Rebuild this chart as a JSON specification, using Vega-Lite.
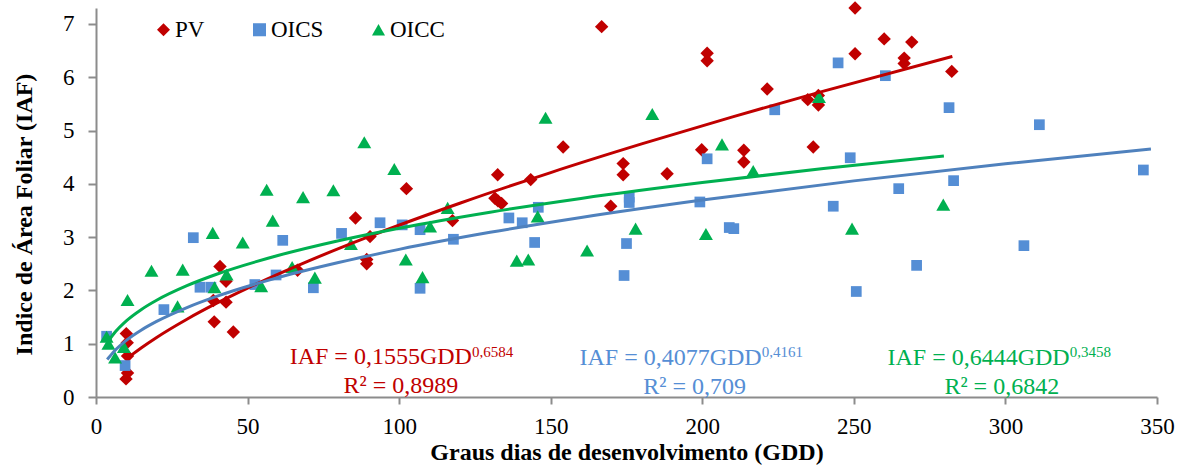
{
  "$schema": "https://vega.github.io/schema/vega-lite/v6.json",
  "width": 1061,
  "height": 389,
  "autosize": {"type": "none"},
  "padding": {"left": 96, "top": 8, "right": 30, "bottom": 78},
  "background": "white",
  "config": {
    "view": {"stroke": null},
    "font": "Liberation Serif",
    "axis": {
      "grid": false,
      "domainColor": "#8c8c8c",
      "domainWidth": 2,
      "tickColor": "#8c8c8c",
      "tickWidth": 2,
      "labelFont": "Liberation Serif",
      "labelFontSize": 23,
      "labelColor": "black",
      "titleFont": "Liberation Serif",
      "titleFontSize": 24,
      "titleFontWeight": "bold",
      "titleColor": "black"
    }
  },
  "datasets": {
    "pts": [
      {"series": "PV", "gdd": 10, "iaf": 1.19},
      {"series": "PV", "gdd": 10.3, "iaf": 1.02},
      {"series": "PV", "gdd": 10.4, "iaf": 0.77},
      {"series": "PV", "gdd": 10.4, "iaf": 0.45},
      {"series": "PV", "gdd": 9.9, "iaf": 0.34},
      {"series": "PV", "gdd": 38.7, "iaf": 1.81},
      {"series": "PV", "gdd": 39, "iaf": 1.41},
      {"series": "PV", "gdd": 40.9, "iaf": 2.45},
      {"series": "PV", "gdd": 42.9, "iaf": 2.17},
      {"series": "PV", "gdd": 42.9, "iaf": 1.78},
      {"series": "PV", "gdd": 45.3, "iaf": 1.22},
      {"series": "PV", "gdd": 66.5, "iaf": 2.38},
      {"series": "PV", "gdd": 85.6, "iaf": 3.36},
      {"series": "PV", "gdd": 89.3, "iaf": 2.58},
      {"series": "PV", "gdd": 89.3, "iaf": 2.5},
      {"series": "PV", "gdd": 90.4, "iaf": 3.01},
      {"series": "PV", "gdd": 102.4, "iaf": 3.91},
      {"series": "PV", "gdd": 117.6, "iaf": 3.31},
      {"series": "PV", "gdd": 132.5, "iaf": 4.17},
      {"series": "PV", "gdd": 131.6, "iaf": 3.73},
      {"series": "PV", "gdd": 132.6, "iaf": 3.68},
      {"series": "PV", "gdd": 133.8, "iaf": 3.63},
      {"series": "PV", "gdd": 143.4, "iaf": 4.08},
      {"series": "PV", "gdd": 154.1, "iaf": 4.69},
      {"series": "PV", "gdd": 166.8, "iaf": 6.95},
      {"series": "PV", "gdd": 169.8, "iaf": 3.58},
      {"series": "PV", "gdd": 173.9, "iaf": 4.38},
      {"series": "PV", "gdd": 173.9, "iaf": 4.17},
      {"series": "PV", "gdd": 188.4, "iaf": 4.19},
      {"series": "PV", "gdd": 199.8, "iaf": 4.64},
      {"series": "PV", "gdd": 201.6, "iaf": 6.45},
      {"series": "PV", "gdd": 201.6, "iaf": 6.31},
      {"series": "PV", "gdd": 213.7, "iaf": 4.63},
      {"series": "PV", "gdd": 213.7, "iaf": 4.41},
      {"series": "PV", "gdd": 221.4, "iaf": 5.78},
      {"series": "PV", "gdd": 234.8, "iaf": 5.58},
      {"series": "PV", "gdd": 238.3, "iaf": 5.48},
      {"series": "PV", "gdd": 238.3, "iaf": 5.66},
      {"series": "PV", "gdd": 236.6, "iaf": 4.69},
      {"series": "PV", "gdd": 250.4, "iaf": 7.3},
      {"series": "PV", "gdd": 250.4, "iaf": 6.44},
      {"series": "PV", "gdd": 260, "iaf": 6.72},
      {"series": "PV", "gdd": 269.1, "iaf": 6.66},
      {"series": "PV", "gdd": 266.6, "iaf": 6.36},
      {"series": "PV", "gdd": 266.6, "iaf": 6.26},
      {"series": "PV", "gdd": 282.3, "iaf": 6.11},
      {"series": "OICS", "gdd": 3.5, "iaf": 1.14},
      {"series": "OICS", "gdd": 9.6, "iaf": 0.59},
      {"series": "OICS", "gdd": 22.4, "iaf": 1.64},
      {"series": "OICS", "gdd": 32.1, "iaf": 2.99},
      {"series": "OICS", "gdd": 34.3, "iaf": 2.06},
      {"series": "OICS", "gdd": 37.9, "iaf": 2.06},
      {"series": "OICS", "gdd": 52.4, "iaf": 2.11},
      {"series": "OICS", "gdd": 59.4, "iaf": 2.29},
      {"series": "OICS", "gdd": 61.6, "iaf": 2.94},
      {"series": "OICS", "gdd": 71.7, "iaf": 2.05},
      {"series": "OICS", "gdd": 81, "iaf": 3.07},
      {"series": "OICS", "gdd": 93.7, "iaf": 3.27},
      {"series": "OICS", "gdd": 101, "iaf": 3.23},
      {"series": "OICS", "gdd": 106.9, "iaf": 3.14},
      {"series": "OICS", "gdd": 106.9, "iaf": 2.04},
      {"series": "OICS", "gdd": 117.9, "iaf": 2.96},
      {"series": "OICS", "gdd": 136.2, "iaf": 3.36},
      {"series": "OICS", "gdd": 140.6, "iaf": 3.27},
      {"series": "OICS", "gdd": 145.9, "iaf": 3.56},
      {"series": "OICS", "gdd": 144.7, "iaf": 2.9},
      {"series": "OICS", "gdd": 175.9, "iaf": 3.75},
      {"series": "OICS", "gdd": 175.9, "iaf": 3.65},
      {"series": "OICS", "gdd": 175, "iaf": 2.88},
      {"series": "OICS", "gdd": 174.2, "iaf": 2.28},
      {"series": "OICS", "gdd": 199.2, "iaf": 3.66},
      {"series": "OICS", "gdd": 201.6, "iaf": 4.47},
      {"series": "OICS", "gdd": 208.9, "iaf": 3.18},
      {"series": "OICS", "gdd": 210.4, "iaf": 3.16},
      {"series": "OICS", "gdd": 223.9, "iaf": 5.39},
      {"series": "OICS", "gdd": 244.8, "iaf": 6.27},
      {"series": "OICS", "gdd": 260.4, "iaf": 6.03},
      {"series": "OICS", "gdd": 281.4, "iaf": 5.43},
      {"series": "OICS", "gdd": 248.8, "iaf": 4.49},
      {"series": "OICS", "gdd": 243.2, "iaf": 3.58},
      {"series": "OICS", "gdd": 264.8, "iaf": 3.91},
      {"series": "OICS", "gdd": 282.9, "iaf": 4.06},
      {"series": "OICS", "gdd": 270.7, "iaf": 2.47},
      {"series": "OICS", "gdd": 250.8, "iaf": 1.98},
      {"series": "OICS", "gdd": 311.2, "iaf": 5.11},
      {"series": "OICS", "gdd": 345.5, "iaf": 4.26},
      {"series": "OICS", "gdd": 306.1, "iaf": 2.84},
      {"series": "OICC", "gdd": 3.5, "iaf": 1.13},
      {"series": "OICC", "gdd": 4.1, "iaf": 1.0},
      {"series": "OICC", "gdd": 6.3, "iaf": 0.74},
      {"series": "OICC", "gdd": 9.2, "iaf": 0.94},
      {"series": "OICC", "gdd": 10.4, "iaf": 1.82},
      {"series": "OICC", "gdd": 18.3, "iaf": 2.37},
      {"series": "OICC", "gdd": 26.9, "iaf": 1.7},
      {"series": "OICC", "gdd": 28.6, "iaf": 2.39},
      {"series": "OICC", "gdd": 38.5, "iaf": 3.08},
      {"series": "OICC", "gdd": 39.1, "iaf": 2.06},
      {"series": "OICC", "gdd": 43.1, "iaf": 2.3},
      {"series": "OICC", "gdd": 48.4, "iaf": 2.9},
      {"series": "OICC", "gdd": 54.5, "iaf": 2.08},
      {"series": "OICC", "gdd": 56.3, "iaf": 3.89},
      {"series": "OICC", "gdd": 58.3, "iaf": 3.31},
      {"series": "OICC", "gdd": 64.7, "iaf": 2.44},
      {"series": "OICC", "gdd": 68.3, "iaf": 3.75},
      {"series": "OICC", "gdd": 72.2, "iaf": 2.24},
      {"series": "OICC", "gdd": 78.3, "iaf": 3.88},
      {"series": "OICC", "gdd": 84.1, "iaf": 2.87},
      {"series": "OICC", "gdd": 88.5, "iaf": 4.78},
      {"series": "OICC", "gdd": 98.4, "iaf": 4.28},
      {"series": "OICC", "gdd": 102.2, "iaf": 2.58},
      {"series": "OICC", "gdd": 107.7, "iaf": 2.25},
      {"series": "OICC", "gdd": 110.2, "iaf": 3.2},
      {"series": "OICC", "gdd": 116, "iaf": 3.55},
      {"series": "OICC", "gdd": 138.8, "iaf": 2.56},
      {"series": "OICC", "gdd": 142.6, "iaf": 2.58},
      {"series": "OICC", "gdd": 145.7, "iaf": 3.39},
      {"series": "OICC", "gdd": 148.3, "iaf": 5.24},
      {"series": "OICC", "gdd": 162, "iaf": 2.75},
      {"series": "OICC", "gdd": 178, "iaf": 3.16},
      {"series": "OICC", "gdd": 183.5, "iaf": 5.31},
      {"series": "OICC", "gdd": 201.2, "iaf": 3.06},
      {"series": "OICC", "gdd": 206.5, "iaf": 4.74},
      {"series": "OICC", "gdd": 216.8, "iaf": 4.24},
      {"series": "OICC", "gdd": 238.5, "iaf": 5.63},
      {"series": "OICC", "gdd": 249.4, "iaf": 3.16},
      {"series": "OICC", "gdd": 279.5, "iaf": 3.61}
    ],
    "trend": [
      {"series": "PV", "gdd": 10.2, "iaf": 0.717},
      {"series": "PV", "gdd": 12, "iaf": 0.799},
      {"series": "PV", "gdd": 15, "iaf": 0.925},
      {"series": "PV", "gdd": 20, "iaf": 1.118},
      {"series": "PV", "gdd": 30, "iaf": 1.46},
      {"series": "PV", "gdd": 40, "iaf": 1.765},
      {"series": "PV", "gdd": 50, "iaf": 2.044},
      {"series": "PV", "gdd": 70, "iaf": 2.55},
      {"series": "PV", "gdd": 90, "iaf": 3.009},
      {"series": "PV", "gdd": 120, "iaf": 3.636},
      {"series": "PV", "gdd": 150, "iaf": 4.212},
      {"series": "PV", "gdd": 180, "iaf": 4.749},
      {"series": "PV", "gdd": 210, "iaf": 5.258},
      {"series": "PV", "gdd": 240, "iaf": 5.741},
      {"series": "PV", "gdd": 282.5, "iaf": 6.391},
      {"series": "OICS", "gdd": 3.7, "iaf": 0.703},
      {"series": "OICS", "gdd": 6, "iaf": 0.859},
      {"series": "OICS", "gdd": 10, "iaf": 1.063},
      {"series": "OICS", "gdd": 15, "iaf": 1.258},
      {"series": "OICS", "gdd": 20, "iaf": 1.418},
      {"series": "OICS", "gdd": 30, "iaf": 1.678},
      {"series": "OICS", "gdd": 40, "iaf": 1.892},
      {"series": "OICS", "gdd": 60, "iaf": 2.24},
      {"series": "OICS", "gdd": 80, "iaf": 2.524},
      {"series": "OICS", "gdd": 100, "iaf": 2.77},
      {"series": "OICS", "gdd": 130, "iaf": 3.09},
      {"series": "OICS", "gdd": 160, "iaf": 3.369},
      {"series": "OICS", "gdd": 200, "iaf": 3.696},
      {"series": "OICS", "gdd": 250, "iaf": 4.056},
      {"series": "OICS", "gdd": 300, "iaf": 4.376},
      {"series": "OICS", "gdd": 348, "iaf": 4.654},
      {"series": "OICC", "gdd": 4.6, "iaf": 1.092},
      {"series": "OICC", "gdd": 6, "iaf": 1.197},
      {"series": "OICC", "gdd": 10, "iaf": 1.429},
      {"series": "OICC", "gdd": 15, "iaf": 1.644},
      {"series": "OICC", "gdd": 20, "iaf": 1.816},
      {"series": "OICC", "gdd": 30, "iaf": 2.089},
      {"series": "OICC", "gdd": 40, "iaf": 2.308},
      {"series": "OICC", "gdd": 60, "iaf": 2.655},
      {"series": "OICC", "gdd": 80, "iaf": 2.933},
      {"series": "OICC", "gdd": 100, "iaf": 3.168},
      {"series": "OICC", "gdd": 130, "iaf": 3.469},
      {"series": "OICC", "gdd": 160, "iaf": 3.727},
      {"series": "OICC", "gdd": 200, "iaf": 4.025},
      {"series": "OICC", "gdd": 240, "iaf": 4.288},
      {"series": "OICC", "gdd": 279.7, "iaf": 4.521}
    ],
    "one": [{"n": 1}]
  },
  "data": {"name": "pts"},
  "layer": [
    {
      "encoding": {
        "x": {
          "field": "gdd", "type": "quantitative",
          "scale": {"domain": [0, 350], "nice": false, "zero": false},
          "axis": {
            "values": [0, 50, 100, 150, 200, 250, 300, 350],
            "title": "Graus dias de desenvolvimento (GDD)",
            "tickSize": 7, "labelPadding": 11, "labelFlush": false, "labelOverlap": false,
            "titleY": 62, "titleBaseline": "alphabetic"
          }
        },
        "y": {
          "field": "iaf", "type": "quantitative",
          "scale": {"domain": [0, 7.3], "nice": false, "zero": false},
          "axis": {
            "values": [0, 1, 2, 3, 4, 5, 6, 7],
            "title": "Indice de Área Foliar (IAF)",
            "tickSize": 8, "labelPadding": 14, "labelOverlap": false, "labelFlush": false,
            "titleX": -72, "titleY": 206, "titleBaseline": "middle"
          }
        },
        "color": {
          "field": "series", "type": "nominal",
          "scale": {"domain": ["PV", "OICS", "OICC"], "range": ["#C00000", "#558ED5", "#00B050"]},
          "legend": {
            "title": null, "orient": "none", "legendX": 56, "legendY": 10,
            "direction": "horizontal", "labelFont": "Liberation Serif", "labelFontSize": 23,
            "labelColor": "black", "symbolSize": 170, "columnPadding": 43, "labelOffset": 0,
            "padding": 0, "symbolStrokeWidth": 0
          }
        },
        "shape": {
          "field": "series", "type": "nominal",
          "scale": {"domain": ["PV", "OICS", "OICC"], "range": ["diamond", "square", "triangle-up"]},
          "legend": {"title": null}
        }
      },
      "layer": [
        {
          "transform": [{"filter": "datum.series === 'PV'"}],
          "mark": {"type": "point", "filled": true, "opacity": 1, "strokeWidth": 0, "size": 180}
        },
        {
          "transform": [{"filter": "datum.series === 'OICS'"}],
          "mark": {"type": "point", "filled": true, "opacity": 1, "strokeWidth": 0, "size": 115}
        },
        {
          "transform": [{"filter": "datum.series === 'OICC'"}],
          "mark": {"type": "point", "filled": true, "opacity": 1, "strokeWidth": 0, "size": 195}
        }
      ]
    },
    {
      "data": {"name": "trend"},
      "transform": [{"filter": "datum.series === 'PV'"}],
      "mark": {"type": "line", "color": "#C00000", "strokeWidth": 3, "interpolate": "monotone"},
      "encoding": {"x": {"field": "gdd", "type": "quantitative"}, "y": {"field": "iaf", "type": "quantitative"}}
    },
    {
      "data": {"name": "trend"},
      "transform": [{"filter": "datum.series === 'OICS'"}],
      "mark": {"type": "line", "color": "#4F81BD", "strokeWidth": 3, "interpolate": "monotone"},
      "encoding": {"x": {"field": "gdd", "type": "quantitative"}, "y": {"field": "iaf", "type": "quantitative"}}
    },
    {
      "data": {"name": "trend"},
      "transform": [{"filter": "datum.series === 'OICC'"}],
      "mark": {"type": "line", "color": "#00B050", "strokeWidth": 3, "interpolate": "monotone"},
      "encoding": {"x": {"field": "gdd", "type": "quantitative"}, "y": {"field": "iaf", "type": "quantitative"}}
    },
    {
      "data": {"name": "one"},
      "mark": {"type": "text", "text": "IAF = 0,1555GDD", "align": "right", "baseline": "alphabetic", "fontSize": 24, "fontWeight": "normal", "font": "Liberation Serif", "color": "#C00000"},
      "encoding": {"x": {"datum": 124}, "y": {"datum": 0.626}}
    },
    {
      "data": {"name": "one"},
      "mark": {"type": "text", "text": "0,6584", "align": "left", "baseline": "alphabetic", "fontSize": 15, "fontWeight": "normal", "font": "Liberation Serif", "color": "#C00000"},
      "encoding": {"x": {"datum": 124}, "y": {"datum": 0.744}}
    },
    {
      "data": {"name": "one"},
      "mark": {"type": "text", "text": "R² = 0,8989", "align": "center", "baseline": "alphabetic", "fontSize": 24, "fontWeight": "normal", "font": "Liberation Serif", "color": "#C00000"},
      "encoding": {"x": {"datum": 100.6}, "y": {"datum": 0.079}}
    },
    {
      "data": {"name": "one"},
      "mark": {"type": "text", "text": "IAF = 0,4077GDD", "align": "right", "baseline": "alphabetic", "fontSize": 24, "fontWeight": "normal", "font": "Liberation Serif", "color": "#558ED5"},
      "encoding": {"x": {"datum": 219.6}, "y": {"datum": 0.594}}
    },
    {
      "data": {"name": "one"},
      "mark": {"type": "text", "text": "0,4161", "align": "left", "baseline": "alphabetic", "fontSize": 15, "fontWeight": "normal", "font": "Liberation Serif", "color": "#558ED5"},
      "encoding": {"x": {"datum": 219.6}, "y": {"datum": 0.744}}
    },
    {
      "data": {"name": "one"},
      "mark": {"type": "text", "text": "R² = 0,709", "align": "center", "baseline": "alphabetic", "fontSize": 24, "fontWeight": "normal", "font": "Liberation Serif", "color": "#558ED5"},
      "encoding": {"x": {"datum": 197.5}, "y": {"datum": 0.064}}
    },
    {
      "data": {"name": "one"},
      "mark": {"type": "text", "text": "IAF = 0,6444GDD", "align": "right", "baseline": "alphabetic", "fontSize": 24, "fontWeight": "normal", "font": "Liberation Serif", "color": "#00B050"},
      "encoding": {"x": {"datum": 321.2}, "y": {"datum": 0.594}}
    },
    {
      "data": {"name": "one"},
      "mark": {"type": "text", "text": "0,3458", "align": "left", "baseline": "alphabetic", "fontSize": 15, "fontWeight": "normal", "font": "Liberation Serif", "color": "#00B050"},
      "encoding": {"x": {"datum": 321.2}, "y": {"datum": 0.744}}
    },
    {
      "data": {"name": "one"},
      "mark": {"type": "text", "text": "R² = 0,6842", "align": "center", "baseline": "alphabetic", "fontSize": 24, "fontWeight": "normal", "font": "Liberation Serif", "color": "#00B050"},
      "encoding": {"x": {"datum": 298.8}, "y": {"datum": 0.064}}
    }
  ]
}
